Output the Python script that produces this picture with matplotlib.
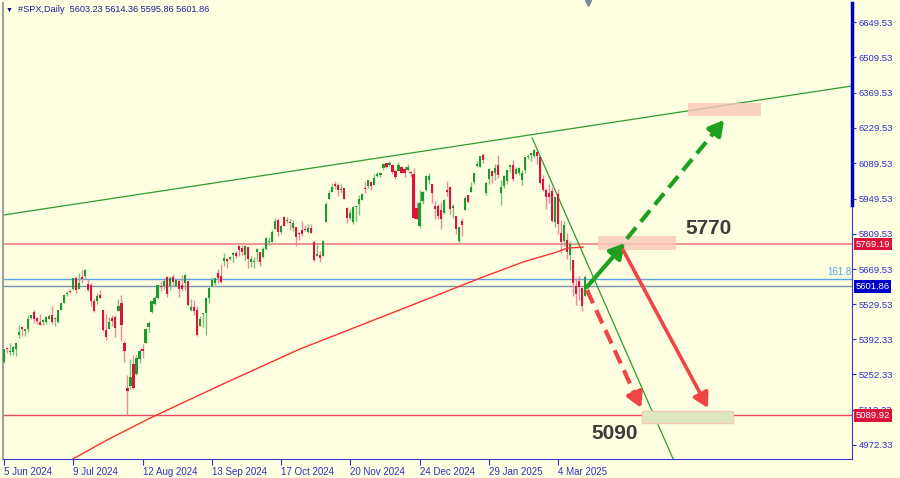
import matplotlib
matplotlib.use('Agg')
import matplotlib.pyplot as plt
from matplotlib.patches import Rectangle

plt.rcParams['font.family'] = ['Liberation Sans', 'DejaVu Sans']

# daily bars, 5 Jun 2024 .. mid Mar 2025
opens = [5300, 5357, 5343, 5341, 5353, 5410, 5441, 5424, 5431, 5477,
         5499, 5474, 5459, 5461, 5460, 5473, 5488, 5471, 5461, 5507,
         5537, 5572, 5584, 5591, 5636, 5591, 5638, 5644, 5611, 5608,
         5543, 5545, 5566, 5506, 5429, 5434, 5477, 5479, 5505, 5537,
         5377, 5200, 5206, 5293, 5252, 5313, 5352, 5376, 5442, 5500,
         5531, 5557, 5603, 5603, 5637, 5603, 5640, 5603, 5624, 5607,
         5613, 5624, 5506, 5521, 5507, 5443, 5491, 5496, 5557, 5604,
         5615, 5655, 5641, 5702, 5709, 5711, 5727, 5733, 5762, 5755,
         5727, 5758, 5698, 5698, 5737, 5737, 5719, 5751, 5778, 5776,
         5830, 5866, 5817, 5875, 5859, 5858, 5833, 5835, 5814, 5826,
         5829, 5817, 5832, 5776, 5723, 5725, 5722, 5856, 5947, 5976,
         6008, 6004, 5985, 5990, 5913, 5874, 5858, 5917, 5929, 5945,
         5993, 6001, 6014, 6004, 6040, 6042, 6069, 6089, 6082, 6084,
         6058, 6060, 6074, 6068, 6063, 6052, 6047, 5912, 5842, 5941,
         5984, 6025, 6007, 5921, 5920, 5904, 5892, 5982, 5994, 5911,
         5879, 5782, 5859, 5905, 5962, 5975, 6015, 6078, 6076, 6122,
         5970, 6027, 6058, 6050, 6082, 5970, 5998, 6021, 6073, 6084,
         6046, 6050, 6025, 6061, 6115, 6121, 6118, 6134, 6114, 6027,
         5982, 5971, 5981, 5856, 5969, 5812, 5781, 5786, 5726, 5705,
         5603, 5624, 5594, 5563, 5603.23]
highs = [5354, 5362, 5376, 5365, 5376, 5448, 5442, 5432, 5489, 5488,
         5506, 5479, 5490, 5472, 5483, 5490, 5524, 5479, 5509, 5539,
         5570, 5583, 5590, 5635, 5642, 5655, 5666, 5669, 5629, 5614,
         5557, 5575, 5586, 5508, 5491, 5480, 5487, 5489, 5551, 5566,
         5384, 5250, 5312, 5330, 5328, 5351, 5372, 5436, 5464, 5545,
         5564, 5608, 5621, 5633, 5643, 5641, 5651, 5628, 5629, 5647,
         5652, 5624, 5552, 5546, 5523, 5485, 5497, 5560, 5600, 5637,
         5636, 5671, 5690, 5734, 5715, 5721, 5736, 5741, 5767, 5764,
         5765, 5758, 5720, 5718, 5753, 5739, 5758, 5797, 5796, 5823,
         5871, 5871, 5843, 5879, 5878, 5867, 5863, 5835, 5817, 5862,
         5843, 5847, 5850, 5780, 5773, 5742, 5784, 5936, 5983, 6012,
         6018, 6010, 6009, 5993, 5915, 5909, 5919, 5921, 5962, 5973,
         6021, 6025, 6021, 6045, 6053, 6053, 6089, 6092, 6100, 6088,
         6066, 6093, 6080, 6078, 6085, 6058, 6070, 5936, 5982, 5979,
         6041, 6050, 6007, 5940, 5929, 5935, 5949, 6021, 6001, 5928,
         5882, 5838, 5871, 5961, 5964, 6014, 6051, 6100, 6119, 6129,
         6017, 6070, 6063, 6087, 6121, 6023, 6042, 6062, 6084, 6101,
         6074, 6076, 6063, 6116, 6127, 6130, 6147, 6134, 6115, 6044,
         5993, 6009, 5994, 5959, 5987, 5866, 5861, 5812, 5783, 5705,
         5636, 5642, 5597, 5645, 5614.36]
lows = [5297, 5336, 5331, 5331, 5327, 5395, 5403, 5403, 5420, 5471,
        5455, 5453, 5447, 5447, 5452, 5471, 5452, 5445, 5458, 5507,
        5536, 5563, 5575, 5587, 5576, 5590, 5614, 5631, 5583, 5522,
        5498, 5532, 5554, 5425, 5390, 5433, 5445, 5400, 5505, 5383,
        5302, 5092, 5193, 5195, 5249, 5297, 5316, 5376, 5422, 5497,
        5528, 5551, 5584, 5592, 5561, 5586, 5603, 5602, 5561, 5581,
        5587, 5523, 5503, 5487, 5403, 5443, 5442, 5407, 5535, 5603,
        5605, 5614, 5615, 5683, 5675, 5706, 5699, 5713, 5721, 5727,
        5704, 5675, 5680, 5675, 5703, 5683, 5713, 5745, 5765, 5776,
        5828, 5802, 5809, 5840, 5852, 5824, 5822, 5762, 5784, 5800,
        5822, 5811, 5811, 5703, 5723, 5696, 5722, 5856, 5947, 5976,
        5986, 5959, 5972, 5946, 5854, 5865, 5850, 5861, 5884, 5945,
        5973, 5993, 5985, 6004, 6034, 6033, 6061, 6070, 6079, 6048,
        6027, 6060, 6051, 6036, 6059, 6036, 5867, 5867, 5833, 5927,
        5981, 6007, 5933, 5869, 5869, 5829, 5888, 5961, 5890, 5874,
        5809, 5773, 5802, 5905, 5931, 5975, 6007, 6076, 6075, 6089,
        5962, 6009, 6012, 6022, 6031, 5923, 5991, 6007, 6054, 6020,
        6045, 6042, 6003, 6051, 6107, 6100, 6111, 6085, 6008, 5978,
        5909, 5933, 5858, 5837, 5810, 5733, 5762, 5711, 5667, 5565,
        5529, 5546, 5504, 5563, 5595.86]
closes = [5354, 5353, 5347, 5361, 5375, 5421, 5434, 5432, 5473, 5487,
          5473, 5465, 5448, 5469, 5478, 5483, 5460, 5475, 5509, 5537,
          5567, 5573, 5577, 5634, 5585, 5615, 5631, 5667, 5588, 5545,
          5505, 5564, 5556, 5427, 5399, 5459, 5464, 5436, 5522, 5447,
          5347, 5186, 5240, 5200, 5319, 5344, 5344, 5434, 5455, 5543,
          5554, 5608, 5597, 5621, 5571, 5635, 5617, 5626, 5592, 5592,
          5648, 5529, 5520, 5503, 5408, 5471, 5496, 5554, 5596, 5626,
          5633, 5635, 5618, 5714, 5703, 5719, 5733, 5722, 5745, 5738,
          5762, 5709, 5710, 5700, 5751, 5696, 5751, 5792, 5780, 5815,
          5860, 5815, 5842, 5841, 5865, 5854, 5851, 5797, 5810, 5808,
          5824, 5833, 5814, 5705, 5729, 5713, 5783, 5929, 5973, 5996,
          6001, 5984, 5985, 5949, 5871, 5894, 5917, 5917, 5949, 5969,
          5987, 6022, 5999, 6032, 6047, 6050, 6086, 6075, 6090, 6053,
          6035, 6084, 6051, 6051, 6074, 6051, 5872, 5867, 5931, 5974,
          6040, 6038, 5971, 5907, 5882, 5869, 5942, 5975, 5909, 5918,
          5827, 5836, 5843, 5950, 5937, 5997, 6049, 6086, 6119, 6101,
          6012, 6068, 6039, 6071, 6041, 5995, 6038, 6061, 6084, 6026,
          6066, 6069, 6052, 6115, 6115, 6130, 6144, 6118, 6013, 5983,
          5955, 5956, 5862, 5955, 5850, 5778, 5843, 5739, 5770, 5615,
          5572, 5599, 5522, 5639, 5601.86]

# moving average (bar index, price)
ma_idx = [18, 22.9, 34.2, 48.5, 73.4, 98.3, 121.6, 144.8, 158.1, 172.4, 183.7, 187, 192.3]
ma_val = [4890, 4917, 4992, 5079, 5218, 5353, 5462, 5571, 5634, 5698, 5738, 5753, 5757]

date_ticks = [0, 23, 46, 69, 92, 115, 138, 161, 184]
date_labels = ['5 Jun 2024', '9 Jul 2024', '12 Aug 2024', '13 Sep 2024', '17 Oct 2024',
               '20 Nov 2024', '24 Dec 2024', '29 Jan 2025', '4 Mar 2025']
price_ticks = [6649.53, 6509.53, 6369.53, 6229.53, 6089.53, 5949.53, 5809.53,
               5669.53, 5529.53, 5392.33, 5252.33, 5112.33, 4972.33]

resistance = 5769.19
support = 5089.92
fibo_level = 5630.5
last_price = 5601.86

bg = '#fefee0'
blue_txt = '#3030c8'
bull, bear = '#1f9a2e', '#dc143c'
bull_w, bear_w = '#7cc07c', '#ee8aa0'

fig = plt.figure(figsize=(9, 4.78), dpi=100, facecolor=bg)
ax = fig.add_axes([3 / 900, 19 / 478, 849 / 900, 456 / 478], facecolor=bg)

# horizontal levels
ax.axhline(fibo_level, color='#5ea2e6', lw=1, zorder=1)
ax.axhline(last_price, color='#7d93b2', lw=1, zorder=1)
ax.axhline(resistance, color='#f08a8a', lw=1.3, zorder=1)
ax.axhline(support, color='#e8485c', lw=1, zorder=1)
ax.text(281.3, fibo_level + 6, '161.8', color='#5ea2e6', fontsize=7, ha='right', va='bottom')

# trend lines
ax.plot([-0.33, 281.6], [5884, 6396], color='#2f9a2f', lw=0.9, zorder=2)
ax.plot([175.4, 222.2], [6189.6, 4917], color='#2f9a2f', lw=0.9, zorder=2)

# candles
n = len(closes)
xs = list(range(n))
up = [c >= o for o, c in zip(opens, closes)]
ax.vlines(xs, lows, highs, colors=[bull_w if u else bear_w for u in up], lw=1, zorder=3)
bottoms = [min(o, c) for o, c in zip(opens, closes)]
heights = [max(abs(c - o), 2) for o, c in zip(opens, closes)]
ax.bar(xs, heights, bottom=bottoms, width=0.72, color=[bull if u else bear for u in up],
       linewidth=0, zorder=4)

# moving average
ax.plot(ma_idx, ma_val, color='#ff3030', lw=1, zorder=5)

# target zones
ax.add_patch(Rectangle((227.2, 6276.8), 24.2, 51.6, facecolor='#f8c8b8', alpha=0.8, lw=0, zorder=2))
ax.add_patch(Rectangle((197.3, 5745), 25.9, 56, facecolor='#f8c8b8', alpha=0.8, lw=0, zorder=2))
ax.add_patch(Rectangle((211.9, 5060), 30.2, 47, facecolor='#dde8c0', edgecolor='#f5c8b8',
                       lw=1, zorder=2))

# scenario arrows
green, red = '#1ea01e', '#f04545'
head = '-|>,head_length=0.8,head_width=0.45'
ax.annotate('', xy=(206.2, 5773), xytext=(193.6, 5599),
            arrowprops=dict(arrowstyle=head, lw=3, color=green, shrinkA=0, shrinkB=0,
                            mutation_scale=11), zorder=6)
ax.plot([206.8, 237.6], [5790, 6238], color=green, lw=3, ls=(0, (3.5, 1.8)), zorder=6)
ax.annotate('', xy=(239.1, 6261), xytext=(237.3, 6234),
            arrowprops=dict(arrowstyle=head, lw=3, color=green, shrinkA=0, shrinkB=0,
                            mutation_scale=11), zorder=6)
ax.annotate('', xy=(233.8, 5119), xytext=(205.6, 5745),
            arrowprops=dict(arrowstyle=head, lw=2.6, color=red, shrinkA=0, shrinkB=0,
                            mutation_scale=11), zorder=6)
ax.plot([193.6, 210.7], [5587, 5142], color=red, lw=3, ls=(0, (3.5, 1.8)), zorder=6)
ax.annotate('', xy=(211.6, 5119), xytext=(210.5, 5148),
            arrowprops=dict(arrowstyle=head, lw=3, color=red, shrinkA=0, shrinkB=0,
                            mutation_scale=11), zorder=6)

ax.text(233.8, 5829, '5770', fontsize=15, fontweight='bold', color='#3c3c3c',
        ha='center', va='center', zorder=7)
ax.text(202.9, 5016, '5090', fontsize=15, fontweight='bold', color='#3c3c3c',
        ha='center', va='center', zorder=7)

# axes
ax.set_xlim(-0.33, 281.6)
ax.set_ylim(4916.8, 6724.9)
ax.yaxis.tick_right()
ax.set_yticks(price_ticks)
ax.set_yticklabels(['%.2f' % p for p in price_ticks])
ax.tick_params(axis='y', colors=blue_txt, labelsize=6.8, length=3, width=0.8, pad=2)
ax.set_xticks(date_ticks)
ax.set_xticklabels(date_labels, ha='left')
ax.tick_params(axis='x', colors=blue_txt, labelsize=7, length=4, width=0.8, pad=2)
ax.spines['top'].set_visible(False)
ax.spines['left'].set_color('#a0a0a0')
ax.spines['left'].set_linewidth(1.5)
ax.spines['bottom'].set_color('#3a3ad0')
ax.spines['right'].set_color('#3a3ad0')
ax.plot([1.0, 1.0], [1.0, (459 - 205) / 456], transform=ax.transAxes, color='#0000c0',
        lw=2.5, clip_on=False, zorder=8)

# price tags on the scale
tr = ax.get_yaxis_transform()
for val, col in [(resistance, '#dc143c'), (last_price, '#0000c8'), (support, '#dc143c')]:
    ax.text(1.004, val, '%.2f' % val, transform=tr, color='white', fontsize=6.8,
            ha='left', va='center', zorder=9,
            bbox=dict(boxstyle='square,pad=0.2', facecolor=col, edgecolor='none'))

# header
fig.text(6 / 900, 1 - 10 / 478, '\u25bc', fontsize=5, color='#10108a', va='center')
fig.text(18 / 900, 1 - 10 / 478, '#SPX,Daily  5603.23 5614.36 5595.86 5601.86', fontsize=6.6,
         color='#1e1e9a', va='center')
ax.plot([194], [6724.9], marker='v', color='#7a8a9a', markersize=5, clip_on=False, zorder=9)

fig.savefig('out.png', dpi=100, facecolor=bg)
